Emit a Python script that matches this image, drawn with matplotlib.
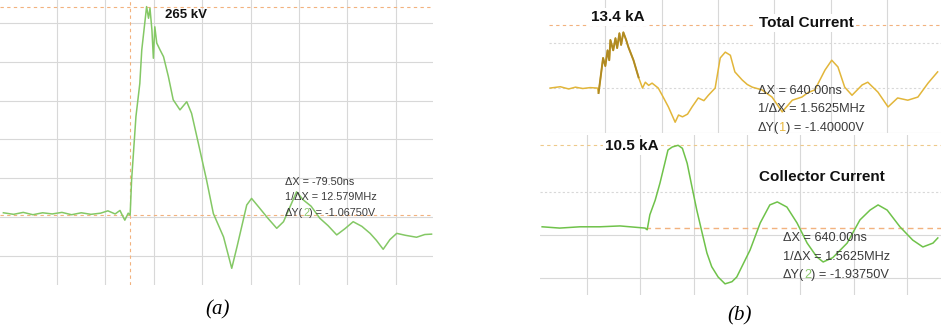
import matplotlib.pyplot as plt

# screen divisions
volt_t = [-0.11, 0.1, 0.3, 0.5, 0.7, 0.9, 1.1, 1.3, 1.5, 1.7, 1.9, 2.05, 2.2, 2.3, 2.35, 2.40, 2.47,
          2.51, 2.54, 2.63, 2.71, 2.75, 2.82, 2.85, 2.89, 2.92, 2.96, 2.99, 3.02, 3.06, 3.13, 3.20,
          3.30, 3.40, 3.54, 3.68, 3.78, 3.92, 4.09, 4.23, 4.44, 4.61, 4.72, 4.92, 5.02, 5.16,
          5.35, 5.54, 5.68, 5.95, 6.09, 6.25, 6.43, 6.6, 6.78, 6.95, 7.12, 7.3, 7.47, 7.6, 7.74,
          7.88, 8.02, 8.2, 8.43, 8.6, 8.74]
volt_v = [0.11, 0.07, 0.12, 0.06, 0.11, 0.08, 0.12, 0.06, 0.11, 0.07, 0.10, 0.16, 0.08, 0.17, 0.04,
          -0.08, 0.10, 0.05, 0.95, 2.59, 3.44, 4.30, 5.08, 5.42, 5.12, 5.38, 4.82, 4.09, 4.90, 4.48,
          4.30, 4.13, 3.62, 3.02, 2.76, 2.97, 2.67, 1.90, 0.95, 0.09, -0.51, -1.32, -0.76, 0.31,
          0.48, 0.27, -0.02, -0.29, -0.12, 0.65, 0.44, 0.28, -0.03, -0.22, -0.46, -0.30, -0.12,
          -0.24, -0.42, -0.60, -0.83, -0.58, -0.42, -0.47, -0.52, -0.45, -0.44]

total_t = [0.02, 0.20, 0.35, 0.47, 0.6, 0.73, 0.86, 0.88, 0.91, 0.96, 1.00, 1.04, 1.07, 1.09, 1.14,
           1.18, 1.21, 1.25, 1.28, 1.32, 1.37, 1.41, 1.50, 1.59, 1.66, 1.71, 1.77, 1.83, 1.94, 2.01,
           2.12, 2.24, 2.30, 2.37, 2.46, 2.54, 2.65, 2.75, 2.83, 2.95, 3.04, 3.13, 3.22, 3.30,
           3.43, 3.52, 3.61, 3.78, 3.96, 4.14, 4.32, 4.49, 4.6, 4.72, 4.90, 5.02, 5.13, 5.25, 5.38,
           5.56, 5.66, 5.84, 6.02, 6.19, 6.37, 6.55, 6.73, 6.90]
total_v = [0.00, 0.03, -0.02, 0.02, -0.01, 0.01, 0.00, -0.11, 0.18, 0.67, 0.49, 0.84, 0.62, 1.07,
           0.84, 1.11, 0.89, 1.22, 0.96, 1.24, 1.07, 0.91, 0.62, 0.24, 0.00, 0.13, 0.06, 0.11, 0.00,
           -0.16, -0.42, -0.76, -0.60, -0.64, -0.58, -0.42, -0.22, -0.28, -0.16, 0.00, 0.67, 0.80,
           0.73, 0.36, 0.18, 0.08, 0.02, -0.04, -0.20, -0.53, -0.27, -0.20, -0.10, -0.04, 0.40,
           0.62, 0.47, 0.02, -0.16, 0.07, 0.13, -0.09, -0.42, -0.22, -0.27, -0.20, 0.11, 0.36]

coll_t = [0.16, 0.49, 0.87, 1.24, 1.62, 2.09, 2.13, 2.18, 2.28, 2.37, 2.46, 2.52, 2.60, 2.71, 2.79,
          2.88, 2.97, 3.06, 3.16, 3.25, 3.34, 3.46, 3.59, 3.72, 3.81, 4.06, 4.25, 4.43, 4.57,
          4.75, 4.94, 5.13, 5.31, 5.43, 5.61, 5.88, 6.12, 6.31, 6.46, 6.63, 6.87, 7.11, 7.30,
          7.49, 7.58]
coll_v = [0.19, 0.16, 0.19, 0.19, 0.21, 0.16, 0.12, 0.47, 0.81, 1.21, 1.67, 1.98, 2.05, 2.09, 2.02,
          1.67, 1.12, 0.58, 0.05, -0.42, -0.74, -0.98, -1.14, -1.09, -0.98, -0.35, 0.28, 0.70, 0.77,
          0.65, 0.28, -0.19, -0.51, -0.63, -0.53, -0.19, 0.35, 0.58, 0.70, 0.58, 0.19, -0.12, -0.28,
          -0.19, -0.07]

W, H = 941, 332
fig = plt.figure(figsize=(W / 100, H / 100), dpi=100)


def box(x0, y0, x1, y1):
    return [x0 / W, 1 - y1 / H, (x1 - x0) / W, (y1 - y0) / H]


def px(x, y):
    return x / W, 1 - y / H


grid_c = "#d8d8d8"
orange = "#f2b27e"

# panel (a)
ax = fig.add_axes(box(0, 0, 433, 285))
ax.set_xlim(-0.18, 8.77)
ax.set_ylim(-1.75, 5.59)
for x in range(1, 9):
    ax.axvline(x, color=grid_c, lw=0.8)
for y in range(-1, 6):
    ax.axhline(y, color=grid_c, lw=0.8)
ax.axvline(2.51, color=orange, lw=0.8, ls=(0, (3, 3)))
ax.axhline(5.41, color=orange, lw=0.8, ls=(0, (3, 3)))
ax.axhline(0.05, color=orange, lw=0.8, ls=(0, (3, 3)))
ax.plot(volt_t, volt_v, color="#84c865", lw=1.1)
ax.axis("off")

# panel (b) top
ax1 = fig.add_axes(box(549, 0, 941, 133))
ax1.set_xlim(0, 6.96)
ax1.set_ylim(-1.0, 1.96)
for x in range(1, 7):
    ax1.axvline(x, color=grid_c, lw=0.8)
ax1.axhline(-1, color=grid_c, lw=0.8)
ax1.axhline(0, color=grid_c, lw=0.8, ls=(0, (2, 2)))
ax1.axhline(1, color=grid_c, lw=0.8, ls=(0, (2, 2)))
ax1.axhline(1.40, color=orange, lw=0.8, ls=(0, (3, 3)))
ax1.plot(total_t, total_v, color="#e2b63a", lw=1.1)
ax1.plot(total_t[7:24], total_v[7:24], color="#b08a22", lw=1.4)
ax1.axis("off")

# panel (b) bottom
ax2 = fig.add_axes(box(540, 135, 941, 295))
ax2.set_xlim(0.12, 7.64)
ax2.set_ylim(-1.40, 2.33)
for x in range(1, 8):
    ax2.axvline(x, color=grid_c, lw=0.8)
ax2.axhline(-1, color=grid_c, lw=0.8)
ax2.axhline(0, color=grid_c, lw=0.8)
ax2.axhline(1, color=grid_c, lw=0.8, ls=(0, (2, 2)))
ax2.axhline(2.09, color="#eec98a", lw=0.8, ls=(0, (3, 3)))
ax2.plot([2.09, 7.64], [0.16, 0.16], color=orange, lw=1.0, ls=(0, (4, 3)))
ax2.plot(coll_t, coll_v, color="#6fc24a", lw=1.1)
ax2.axis("off")

bold = dict(family="Liberation Sans", weight="bold", ha="center", va="center", color="#111111")
wbg = dict(facecolor="white", edgecolor="none", pad=1.5)
fig.text(*px(186, 15), "265 kV", fontsize=9.5, **bold)
fig.text(*px(618, 17), "13.4 kA", fontsize=11, bbox=wbg, **bold)
fig.text(*px(806, 23), "Total Current", fontsize=11, bbox=wbg, **bold)
fig.text(*px(632, 146), "10.5 kA", fontsize=11, bbox=wbg, **bold)
fig.text(*px(822, 177), "Collector Current", fontsize=11, **bold)


def readout(x, y, dx, f, dy, ch, ch_c, size, step):
    st = dict(family="Liberation Sans", fontsize=size, color="#3a3a3a", va="center", ha="left")
    fig.text(*px(x, y), "ΔX = " + dx, **st)
    fig.text(*px(x, y + step), "1/ΔX = " + f, **st)
    t = fig.text(*px(x, y + 2 * step), "ΔY(", **st)
    a = plt.annotate(ch, xy=(1, 0), xycoords=t, va="bottom", ha="left",
                     fontsize=size, family="Liberation Sans", color=ch_c)
    plt.annotate(") = " + dy, xy=(1, 0), xycoords=a, va="bottom", ha="left",
                 fontsize=size, family="Liberation Sans", color="#3a3a3a")


readout(285, 182, "-79.50ns", "12.579MHz", "-1.06750V", "2", "#8cc86e", 7.8, 15.5)
readout(758, 91, "640.00ns", "1.5625MHz", "-1.40000V", "1", "#e8b840", 9.2, 18.5)
readout(783, 238, "640.00ns", "1.5625MHz", "-1.93750V", "2", "#8cc86e", 9.2, 18.5)

cap = dict(family="Liberation Serif", style="italic", fontsize=15, ha="center", va="center")
fig.text(*px(218, 310), "(a)", **cap)
fig.text(*px(740, 316), "(b)", **cap)

fig.savefig("out.png", dpi=100)
